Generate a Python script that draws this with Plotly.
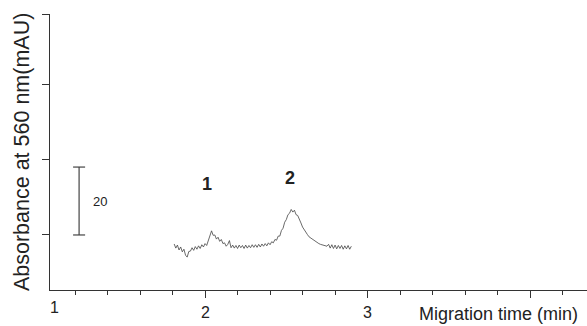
import plotly.graph_objects as go

# ---- data ----
time_min = [1.81, 1.82, 1.83, 1.84, 1.85, 1.86, 1.87, 1.88, 1.89, 1.90,
            1.91, 1.92, 1.93, 1.94, 1.95, 1.96, 1.97, 1.98, 1.99, 2.00,
            2.01, 2.02, 2.03, 2.04, 2.05, 2.06, 2.07, 2.08, 2.09, 2.10,
            2.11, 2.12, 2.13, 2.14, 2.15, 2.16, 2.17, 2.18, 2.19, 2.20,
            2.21, 2.22, 2.23, 2.24, 2.25, 2.26, 2.27, 2.28, 2.29, 2.30,
            2.31, 2.32, 2.33, 2.34, 2.35, 2.36, 2.37, 2.38, 2.39, 2.40,
            2.41, 2.42, 2.43, 2.44, 2.45, 2.46, 2.47, 2.48, 2.49, 2.50,
            2.51, 2.52, 2.53, 2.54, 2.55, 2.56, 2.57, 2.58, 2.59, 2.60,
            2.61, 2.62, 2.63, 2.64, 2.65, 2.66, 2.67, 2.68, 2.69, 2.70,
            2.71, 2.72, 2.73, 2.74, 2.75, 2.76, 2.77, 2.78, 2.79, 2.80,
            2.81, 2.82, 2.83, 2.84, 2.85, 2.86, 2.87, 2.88, 2.89, 2.90]
absorbance = [-2.4, -3.5, -2.7, -4.0, -3.2, -4.5, -3.8, -5.4, -5.9, -4.4,
              -4.3, -3.4, -4.1, -3.1, -3.8, -2.9, -3.6, -2.6, -3.2, -2.3,
              -2.8, -1.4, -0.6, 1.1, -0.1, 0.0, -1.1, -0.6, -1.7, -1.2,
              -2.3, -2.1, -3.0, -2.5, -1.5, -3.4, -2.7, -3.5, -2.8, -3.6,
              -2.7, -3.4, -2.8, -3.6, -2.7, -3.5, -2.8, -3.4, -2.6, -3.3,
              -2.6, -3.3, -2.5, -3.2, -2.4, -3.0, -2.3, -2.9, -2.1, -2.6,
              -1.8, -2.1, -1.2, -1.4, -0.3, -0.3, 1.2, 1.8, 3.4, 4.1,
              5.4, 5.8, 6.8, 6.1, 6.6, 5.4, 5.2, 3.9, 3.2, 2.1,
              1.4, 0.5, 0.1, -0.5, -0.8, -1.3, -1.5, -1.8, -2.1, -2.3,
              -2.5, -2.6, -2.8, -2.9, -3.0, -2.5, -3.5, -2.6, -3.6, -2.7,
              -3.7, -2.8, -3.6, -2.8, -3.8, -2.9, -3.7, -2.8, -3.8, -3.0]

peak_labels = ["1", "2"]
peak_times = [2.012, 2.523]
peak_heights = [13.6, 15.2]

x_tick_labels = ["1", "2", "3"]
x_tick_label_pos = [1.076, 2.0, 3.0]

scale_bar_value = 18.1
scale_bar_label = "20"
scale_bar_time = 1.225

FONT = "Liberation Sans, Arial, Helvetica, sans-serif"
INK = "#222222"

fig = go.Figure()

fig.add_trace(go.Scatter(
    x=time_min, y=absorbance, mode="lines",
    line=dict(color="#444444", width=0.8),
    hoverinfo="skip", showlegend=False))

# scale bar (vertical with caps)
cap = 0.037
fig.add_trace(go.Scatter(
    x=[scale_bar_time - cap, scale_bar_time + cap, None,
       scale_bar_time, scale_bar_time, None,
       scale_bar_time - cap, scale_bar_time + cap],
    y=[scale_bar_value, scale_bar_value, None,
       scale_bar_value, 0, None, 0, 0],
    mode="lines", line=dict(color="#444444", width=1.2),
    hoverinfo="skip", showlegend=False))

annotations = []
annotations.append(dict(x=scale_bar_time + 0.13, y=scale_bar_value / 2,
                        xref="x", yref="y", text=scale_bar_label, showarrow=False,
                        xanchor="center", yanchor="middle",
                        font=dict(family=FONT, size=13, color=INK)))
for lab, t, h in zip(peak_labels, peak_times, peak_heights):
    annotations.append(dict(x=t, y=h, xref="x", yref="y", text="<b>%s</b>" % lab,
                            showarrow=False, xanchor="center", yanchor="middle",
                            font=dict(family=FONT, size=18, color=INK)))
for i, (lab, t) in enumerate(zip(x_tick_labels, x_tick_label_pos)):
    annotations.append(dict(x=t, y=-0.065 if i == 0 else -0.083, xref="x", yref="paper",
                            text=lab, showarrow=False, xanchor="center", yanchor="middle",
                            font=dict(family=FONT, size=16, color=INK)))
annotations.append(dict(x=0.836, y=-0.088, xref="paper", yref="paper",
                        text="Migration time (min)", showarrow=False,
                        xanchor="center", yanchor="middle",
                        font=dict(family=FONT, size=18, color=INK)))
annotations.append(dict(x=-0.052, y=0.5, xref="paper", yref="paper",
                        text="Absorbance at 560 nm(mAU)", textangle=-90, showarrow=False,
                        xanchor="center", yanchor="middle",
                        font=dict(family=FONT, size=21.5, color=INK)))

fig.update_layout(
    width=587, height=326,
    margin=dict(l=50, r=0, t=14, b=36),
    paper_bgcolor="white", plot_bgcolor="white",
    annotations=annotations,
    xaxis=dict(range=[1.046, 4.35], showgrid=False, zeroline=False,
               showline=True, linecolor="#333333", linewidth=1.2,
               ticks="outside", ticklen=7, tickcolor="#333333", tickwidth=1,
               tickvals=[2, 3, 4], showticklabels=False,
               minor=dict(ticks="outside", ticklen=4, tickcolor="#333333",
                          tickvals=[1.2, 1.4, 1.6, 1.8, 2.2, 2.4, 2.6, 2.8,
                                    3.2, 3.4, 3.6, 3.8, 4.2])),
    yaxis=dict(range=[-14.67, 58.9], showgrid=False, zeroline=False,
               showline=True, linecolor="#333333", linewidth=1.2,
               ticks="outside", ticklen=7, tickcolor="#333333", tickwidth=1,
               tickvals=[0, 20, 40, 58.9], showticklabels=False),
)

fig.write_html("out.html")
